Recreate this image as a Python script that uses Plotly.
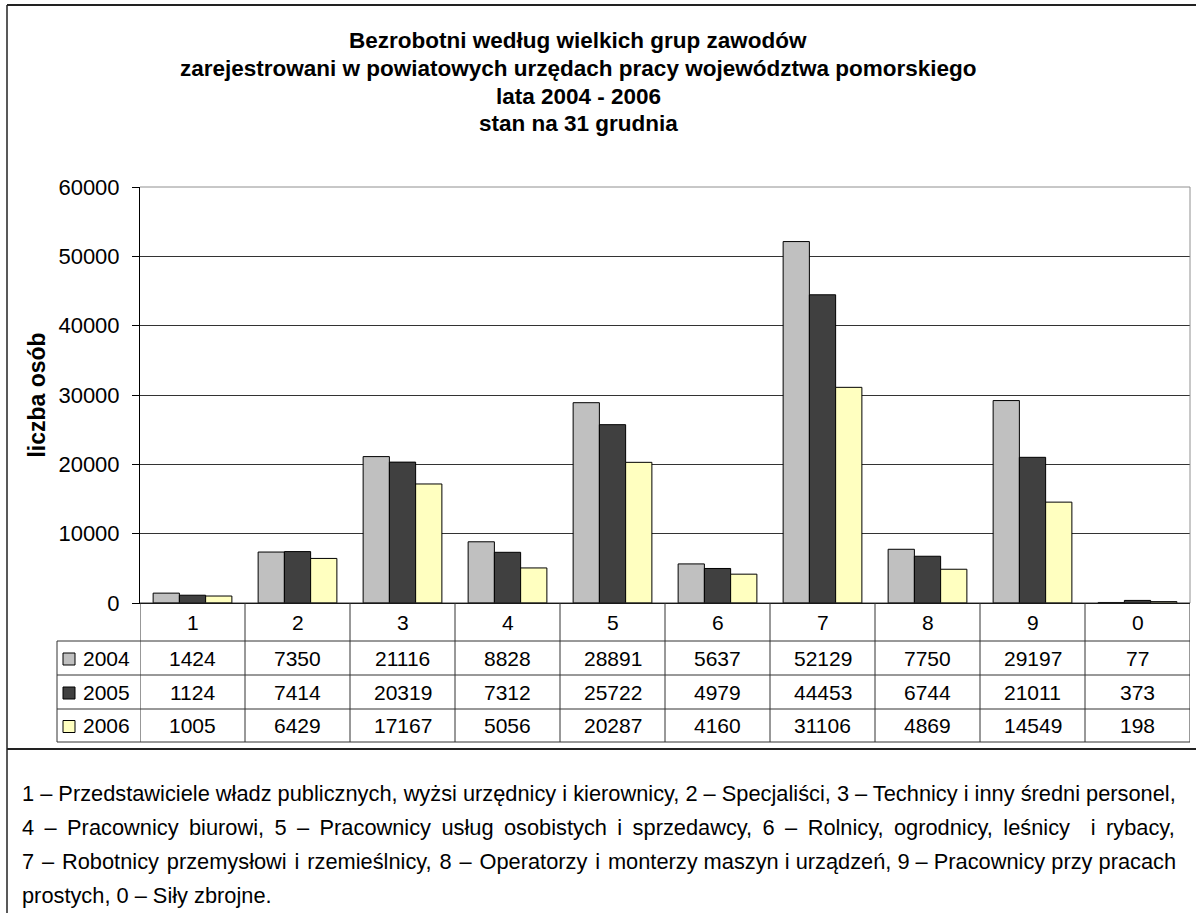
import plotly.graph_objects as go

# dane: bezrobotni wg wielkich grup zawodów, woj. pomorskie
kategorie = ['1', '2', '3', '4', '5', '6', '7', '8', '9', '0']
lata = ['2004', '2005', '2006']
w2004 = [1424, 7350, 21116, 8828, 28891, 5637, 52129, 7750, 29197, 77]
w2005 = [1124, 7414, 20319, 7312, 25722, 4979, 44453, 6744, 21011, 373]
w2006 = [1005, 6429, 17167, 5056, 20287, 4160, 31106, 4869, 14549, 198]
kolory = ['#C0C0C0', '#404040', '#FFFFC0']

tytul = ['Bezrobotni według wielkich grup zawodów',
         'zarejestrowani w powiatowych urzędach pracy województwa pomorskiego',
         'lata 2004 - 2006',
         'stan na 31 grudnia']

przypis = ['1 – Przedstawiciele władz publicznych, wyżsi urzędnicy i kierownicy, 2 – Specjaliści, 3 – Technicy i inny średni personel,',
           '4 – Pracownicy biurowi, 5 – Pracownicy usług osobistych i sprzedawcy, 6 – Rolnicy, ogrodnicy, leśnicy  i rybacy,',
           '7 – Robotnicy przemysłowi i rzemieślnicy, 8 – Operatorzy i monterzy maszyn i urządzeń, 9 – Pracownicy przy pracach',
           'prostych, 0 – Siły zbrojne.']


def rozsun(tekst, znak, n):
    # wyjustowanie "na oko": dodatkowa wąska spacja w n pierwszych odstępach
    slowa = tekst.split(' ')
    out = slowa[0]
    for k, s in enumerate(slowa[1:]):
        out += ' ' + (znak if k < n else '') + s
    return out


przypis[1] = rozsun(przypis[1], '\u2009', 99)
przypis[2] = rozsun(przypis[2], '\u200a', 10)

W, H = 1196, 913
L, R, T, B = 140, 1190, 187, 603
FONT = 'Liberation Sans, Arial, sans-serif'


def px(x):
    return (x - L) / (R - L)


def py(y):
    return (B - y) / (B - T)


fig = go.Figure()
serie = [w2004, w2005, w2006]
xs = list(range(len(kategorie)))
for rok, wart, kol in zip(lata, serie, kolory):
    fig.add_trace(go.Bar(x=xs, y=wart, name=rok, marker_color=kol,
                         marker_line=dict(color='black', width=1)))

shapes = []
ann = []

# ramki
shapes.append(dict(type='line', xref='paper', yref='paper', x0=px(7), x1=px(W), y0=py(5), y1=py(5),
                   line=dict(color='#222', width=2)))
shapes.append(dict(type='line', xref='paper', yref='paper', x0=px(7), x1=px(7), y0=py(5), y1=py(H),
                   line=dict(color='#222', width=1.5)))
shapes.append(dict(type='line', xref='paper', yref='paper', x0=px(7), x1=px(W), y0=py(749), y1=py(749),
                   line=dict(color='#222', width=2)))
# prawa i górna krawędź obszaru wykresu
shapes.append(dict(type='line', xref='paper', yref='paper', x0=1, x1=1, y0=0, y1=1,
                   line=dict(color='#909090', width=1)))
shapes.append(dict(type='line', xref='paper', yref='paper', x0=0, x1=1, y0=1, y1=1,
                   line=dict(color='#909090', width=1)))

# tabela danych
wiersze = [603, 641, 675, 709, 742]
for i, y in enumerate(wiersze):
    x0 = px(57) if i >= 1 else 0
    shapes.append(dict(type='line', xref='paper', yref='paper', x0=x0, x1=1, y0=py(y), y1=py(y),
                       line=dict(color='#333', width=1)))
for k in range(len(kategorie) + 1):
    shapes.append(dict(type='line', xref='x', yref='paper', x0=k - 0.5, x1=k - 0.5, y0=py(603), y1=py(742),
                       line=dict(color='#333', width=1)))
shapes.append(dict(type='line', xref='paper', yref='paper', x0=px(57), x1=px(57), y0=py(641), y1=py(742),
                   line=dict(color='#333', width=1)))

tab_font = dict(size=21, color='black', family=FONT)
for i, kat in enumerate(kategorie):
    ann.append(dict(x=i, xref='x', y=py(622), yref='paper', text=kat, showarrow=False,
                    xanchor='center', yanchor='middle', font=tab_font))
    for j, wart in enumerate(serie):
        yc = (wiersze[j + 1] + wiersze[j + 2]) / 2
        ann.append(dict(x=i, xref='x', y=py(yc), yref='paper', text=str(wart[i]), showarrow=False,
                        xanchor='center', yanchor='middle', font=tab_font))

for j, (rok, kol) in enumerate(zip(lata, kolory)):
    yc = (wiersze[j + 1] + wiersze[j + 2]) / 2
    shapes.append(dict(type='rect', xref='paper', yref='paper', x0=px(63), x1=px(75), y0=py(yc - 5), y1=py(yc + 7),
                       fillcolor=kol, line=dict(color='black', width=1)))
    ann.append(dict(x=px(81), xref='paper', y=py(yc), yref='paper', text=rok, showarrow=False,
                    xanchor='left', yanchor='middle', font=tab_font))

# tytuł
for i, t in enumerate(tytul):
    ann.append(dict(x=px(578), xref='paper', y=py(41 + 27.5 * i), yref='paper', text='<b>' + t + '</b>',
                    showarrow=False, xanchor='center', yanchor='middle',
                    font=dict(size=22.5, color='black', family=FONT)))

# przypis
for i, t in enumerate(przypis):
    ann.append(dict(x=px(20), xref='paper', y=py(793 + 34 * i), yref='paper', text=t, showarrow=False,
                    xanchor='left', yanchor='middle', font=dict(size=21.8, color='black', family=FONT)))

fig.update_layout(
    width=W, height=H,
    margin=dict(l=L, r=W - R, t=T, b=H - B),
    paper_bgcolor='white', plot_bgcolor='white',
    showlegend=False,
    barmode='group', bargap=0.25, bargroupgap=0,
    font=dict(family=FONT, color='black'),
    shapes=shapes, annotations=ann,
)
fig.update_xaxes(range=[-0.5, len(kategorie) - 0.5], showticklabels=False, ticks='',
                 showgrid=False, showline=True, linecolor='black', linewidth=1, zeroline=False)
fig.update_yaxes(range=[0, 60000], dtick=10000, tickformat='d', ticks='outside', ticklen=7, tickcolor='black',
                 ticklabelstandoff=8,
                 showline=True, linecolor='black', linewidth=1, gridcolor='#333', gridwidth=1,
                 zeroline=False, tickfont=dict(size=22, family=FONT),
                 title=dict(text='<b>liczba osób</b>', font=dict(size=23, family=FONT), standoff=6))

# strona bez marginesu, żeby wykres zaczynał się w rogu okna
fig.write_html("out.html", config={'displayModeBar': False},
               post_script="document.body.style.margin='0';")
